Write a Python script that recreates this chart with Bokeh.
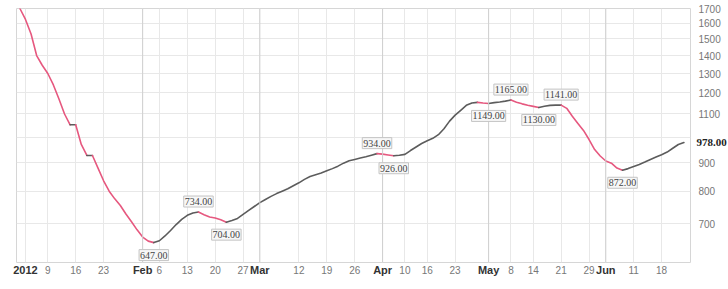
from bokeh.plotting import figure
from bokeh.models import Range1d, FixedTicker, Label, Span, NumeralTickFormatter, LinearAxis, LogAxis
from bokeh.embed import file_html
from bokeh.resources import INLINE

# trading-day index (0 = 3 Jan 2012) and index level
days = list(range(-1, 119))
values = [
    1700, 1625, 1530, 1400, 1345, 1300, 1240, 1170, 1100, 1052,
    1052, 970, 927, 927, 880, 835, 800, 775, 754, 728,
    705, 682, 662, 651, 647, 652, 665, 680, 697, 712,
    724, 731, 734, 726, 719, 716, 711, 704, 709, 715,
    727, 739, 751, 763, 773, 783, 792, 800, 808, 818,
    828, 840, 850, 856, 862, 870, 878, 887, 898, 907,
    912, 917, 922, 928, 934, 932, 929, 926, 928, 931,
    946, 960, 974, 985, 995, 1010, 1035, 1068, 1095, 1117,
    1140, 1151, 1154, 1151, 1149, 1153, 1156, 1160, 1165, 1155,
    1147, 1140, 1135, 1130, 1136, 1140, 1141, 1141, 1126, 1090,
    1058, 1028, 990, 950, 925, 906, 898, 880, 872, 878,
    886, 893, 902, 912, 921, 930, 940, 955, 970, 978,
]

tick_days = [0, 4, 9, 14, 21, 24, 29, 34, 39, 42, 49, 54, 59, 64, 68, 72, 77,
             83, 87, 91, 96, 101, 104, 109, 114]
tick_labels = ["2012", "9", "16", "23", "Feb", "6", "13", "20", "27", "Mar",
               "12", "19", "26", "Apr", "10", "16", "23", "May", "8", "14",
               "21", "29", "Jun", "11", "18"]
bold_labels = ["2012", "Feb", "Mar", "Apr", "May", "Jun"]
month_days = [21, 42, 64, 83, 104]

y_ticks = [700, 800, 900, 1000, 1100, 1200, 1300, 1400, 1500, 1600, 1700]

ext_days = [23, 31, 36, 63, 66, 83, 87, 92, 96, 107]
ext_side = ["below", "above", "below", "above", "below",
            "below", "above", "below", "above", "below"]

RED = "#e6587f"
GREY = "#5c5c5c"

p = figure(frame_width=674, frame_height=254, output_backend="svg",
           toolbar_location=None, y_axis_type="log", y_axis_location="right",
           x_range=Range1d(-1.61, 119.18), y_range=Range1d(596, 1700),
           min_border_left=16, min_border_right=38, min_border_top=8,
           min_border_bottom=0)
p.outline_line_color = "#d6d6d6"
p.background_fill_color = "white"
p.border_fill_color = "white"

# grid
p.xgrid.ticker = FixedTicker(ticks=tick_days)
p.xgrid.grid_line_color = "#e8e8e8"
p.ygrid.ticker = FixedTicker(ticks=y_ticks)
p.ygrid.grid_line_color = "#e8e8e8"
for m in month_days:
    p.add_layout(Span(location=m, dimension="height", line_color="#cfcfcf", line_width=1))

# x axis: plain day numbers
xa = p.xaxis[0]
xa.ticker = FixedTicker(ticks=tick_days)
xa.major_label_overrides = {d: ("" if t in bold_labels else t) for d, t in zip(tick_days, tick_labels)}
xa.major_tick_line_color = None
xa.minor_tick_line_color = None
xa.major_tick_out = 0
xa.minor_tick_out = 0
xa.axis_line_color = None
xa.major_label_standoff = 3
xa.major_label_text_font = "Liberation Sans"
xa.major_label_text_font_size = "10px"
xa.major_label_text_color = "#777777"

# second x axis: bold year / month names, pulled up onto the same row
bold_days = [d for d, t in zip(tick_days, tick_labels) if t in bold_labels]
xb = LinearAxis(ticker=FixedTicker(ticks=bold_days),
                major_label_overrides={d: t for d, t in zip(tick_days, tick_labels) if t in bold_labels},
                major_tick_line_color=None, minor_tick_line_color=None,
                major_tick_out=0, minor_tick_out=0,
                axis_line_color=None, major_label_standoff=-13,
                major_label_text_font="Liberation Sans",
                major_label_text_font_size="11px",
                major_label_text_font_style="bold",
                major_label_text_color="#333333")
p.add_layout(xb, "below")

# y axis
ya = p.yaxis[0]
ya.ticker = FixedTicker(ticks=y_ticks)
ya.formatter = NumeralTickFormatter(format="0")
ya.major_label_overrides = {1000: ""}
ya.major_tick_line_color = None
ya.minor_tick_line_color = None
ya.major_tick_out = 0
ya.minor_tick_out = 0
ya.axis_line_color = None
ya.major_label_standoff = 8
ya.major_label_text_font = "Liberation Sans"
ya.major_label_text_font_size = "10px"
ya.major_label_text_color = "#777777"

# line coloured by direction
runs = []
cur = None
for i in range(len(days) - 1):
    col = RED if values[i + 1] < values[i] else GREY
    if cur is None or cur[0] != col:
        cur = [col, [days[i]], [values[i]]]
        runs.append(cur)
    cur[1].append(days[i + 1])
    cur[2].append(values[i + 1])
for col, xs, ys in runs:
    p.line(xs, ys, line_color=col, line_width=1.6, line_join="round", line_cap="round")

# value labels at turning points
for d, side in zip(ext_days, ext_side):
    v = values[days.index(d)]
    p.add_layout(Label(x=d, y=v, text=f"{v:.2f}", text_align="center",
                       text_baseline="top" if side == "below" else "bottom",
                       y_offset=-7 if side == "below" else 5,
                       text_font="Liberation Serif", text_font_size="10px",
                       text_color="#444444", background_fill_color="#f7f7f7",
                       border_line_color="#c4c4c4", padding=(1, 2)))

# last value badge as a second right-hand axis
last = values[-1]
yb = LogAxis(ticker=FixedTicker(ticks=[last]),
             major_label_overrides={last: f"{last:.2f}"},
             major_tick_line_color=None, minor_tick_line_color=None,
             major_tick_out=0, minor_tick_out=0,
             axis_line_color=None, major_label_standoff=-27,
             major_label_text_font="Liberation Serif",
             major_label_text_font_size="11px",
             major_label_text_font_style="bold",
             major_label_text_color="#222222")
p.add_layout(yb, "right")

open("out.html", "w").write(file_html(p, INLINE))
